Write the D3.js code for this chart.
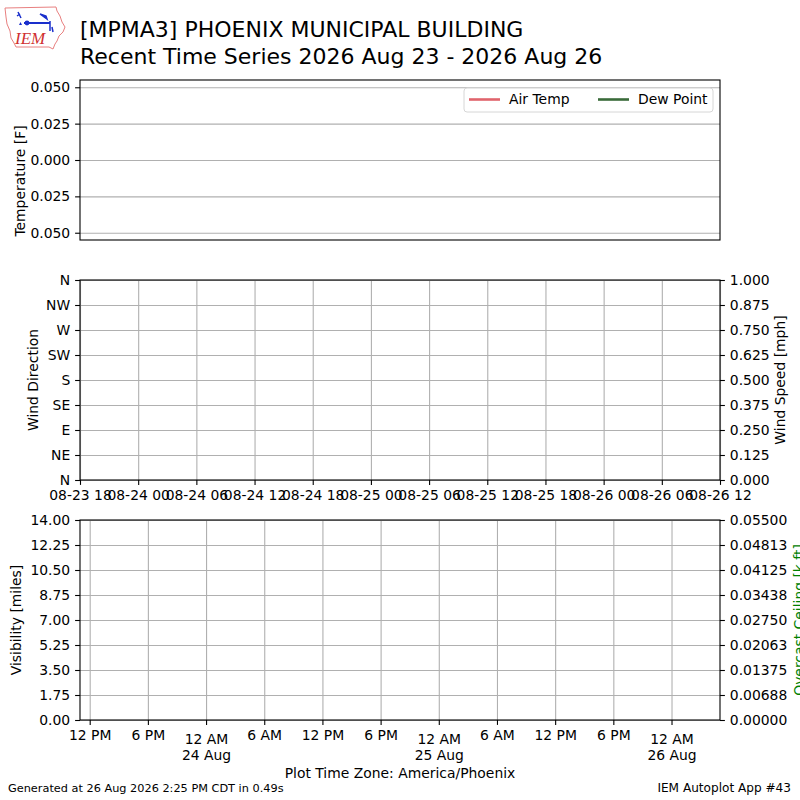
<!DOCTYPE html>
<html>
<head>
<meta charset="utf-8">
<script src="https://cdn.jsdelivr.net/npm/d3@7"></script>
<style>
  html, body { margin: 0; padding: 0; background: #fff; }
  svg { display: block; font-family: "DejaVu Sans", sans-serif; }
  .grid line { stroke: #b0b0b0; stroke-width: 1.1; }
  .grid path { display: none; }
  .ax path, .ax line { stroke: #000; stroke-width: 1.1; }
  .ax text { font-size: 13.9px; fill: #000; font-family: "DejaVu Sans", sans-serif; }
</style>
</head>
<body>
<svg id="chart" width="800" height="800"></svg>
<script>
// ── Data ────────────────────────────────────────────────────────────────
const stationTitle = '[MPMA3] PHOENIX MUNICIPAL BUILDING';
const subTitle     = 'Recent Time Series 2026 Aug 23 - 2026 Aug 26';
const footerLeft   = 'Generated at 26 Aug 2026 2:25 PM CDT in 0.49s';
const footerRight  = 'IEM Autoplot App #43';
const tzLabel      = 'Plot Time Zone: America/Phoenix';

// no observations came back for the period, so all series are empty
const airTemp   = [];
const dewPoint  = [];
const windDir   = [];
const windSpeed = [];
const visibility = [];
const ceiling   = [];

const legendNames  = ['Air Temp', 'Dew Point'];
const legendColors = ['#e0646c', '#3a6b3a'];

const tempTicks     = [-0.05, -0.025, 0, 0.025, 0.05];
const tempLabels    = ['0.050', '0.025', '0.000', '0.025', '0.050'];
const dirTicks      = [0, 45, 90, 135, 180, 225, 270, 315, 360];
const dirLabels     = ['N', 'NE', 'E', 'SE', 'S', 'SW', 'W', 'NW', 'N'];
const speedTicks    = [0, 0.125, 0.25, 0.375, 0.5, 0.625, 0.75, 0.875, 1.0];
const visTicks      = [0, 1.75, 3.5, 5.25, 7, 8.75, 10.5, 12.25, 14];
const ceilTicks     = [0, 0.006875, 0.01375, 0.020625, 0.0275, 0.034375, 0.04125, 0.048125, 0.055];
const ceilLabels    = ['0.00000', '0.00688', '0.01375', '0.02063', '0.02750', '0.03438', '0.04125', '0.04813', '0.05500'];

// UTC window for the wind panel, local (MST) window for the bottom panel
const utcStart   = new Date(Date.UTC(2026, 7, 23, 18));
const utcEnd     = new Date(Date.UTC(2026, 7, 26, 12));
const localStart = new Date(Date.UTC(2026, 7, 23, 11));
const localEnd   = new Date(Date.UTC(2026, 7, 26, 5));

// ── Layout ──────────────────────────────────────────────────────────────
const svg = d3.select('#chart');
const L = 80, R = 720;
const P1 = { top: 80,  bottom: 240 };
const P2 = { top: 280, bottom: 480 };
const P3 = { top: 520, bottom: 720 };
const TICK = 4.9, PAD = 4.9;

// ── Logo ────────────────────────────────────────────────────────────────
const logo = svg.append('g');
logo.append('path')
  .attr('d', 'M5,8 L56,7 L57,11 L60,16 L62,22 L65,27 L63,32 L59,36 L57,41 L55,44 L53,49 L49,47 L16,47 L14,43 L11,38 L10,31 L7,24 L6,17 Z')
  .attr('fill', 'none').attr('stroke', '#e88080').attr('stroke-width', 1);
logo.append('line').attr('x1', 24).attr('y1', 23).attr('x2', 50).attr('y2', 23)
  .attr('stroke', '#1a2fcc').attr('stroke-width', 2);
logo.append('circle').attr('cx', 27).attr('cy', 23).attr('r', 2.4).attr('fill', '#1a2fcc');
logo.append('path').attr('d', 'M18,12 L21,18 M17,16 L20,14 M40,14 L47,19 L46,16 Z M50,21 L50,31 M52,27 L53,32')
  .attr('stroke', '#1a2fcc').attr('stroke-width', 1.5).attr('fill', '#1a2fcc');
logo.append('path').attr('d', 'M19,25 L22,25 L20.5,22 Z').attr('fill', '#1a2fcc');
logo.append('text').attr('x', 15).attr('y', 44)
  .attr('font-family', '"Liberation Serif", serif').attr('font-style', 'italic')
  .attr('font-size', 17).attr('fill', '#d03030').text('IEM');

// ── Titles ──────────────────────────────────────────────────────────────
svg.append('text').attr('x', 80).attr('y', 37).attr('font-size', 22).text(stationTitle);
svg.append('text').attr('x', 80).attr('y', 64).attr('font-size', 22).text(subTitle);

// ── Helpers ─────────────────────────────────────────────────────────────
function gridY(y, ticks) {
  svg.append('g').attr('class', 'grid')
    .attr('transform', `translate(${L},0)`)
    .call(d3.axisLeft(y).tickValues(ticks).tickSize(-(R - L)).tickFormat(''));
}
function gridX(x, ticks, top, bottom) {
  svg.append('g').attr('class', 'grid')
    .attr('transform', `translate(0,${bottom})`)
    .call(d3.axisBottom(x).tickValues(ticks).tickSize(-(bottom - top)).tickFormat(''));
}
function frame(p) {
  svg.append('rect').attr('x', L).attr('y', p.top)
    .attr('width', R - L).attr('height', p.bottom - p.top)
    .attr('fill', 'none').attr('stroke', '#000').attr('stroke-width', 1.1);
}
function ylabel(text, x, y, color) {
  svg.append('text')
    .attr('transform', `translate(${x},${y}) rotate(-90)`)
    .attr('text-anchor', 'middle').attr('font-size', 13.9)
    .attr('fill', color || '#000').text(text);
}

// ── Panel 1: temperature ────────────────────────────────────────────────
const yTemp = d3.scaleLinear().domain([-0.055, 0.055]).range([P1.bottom, P1.top]);
const xTemp = d3.scaleUtc().domain([utcStart, utcEnd]).range([L, R]);
gridY(yTemp, tempTicks);
svg.append('g').attr('class', 'ax').attr('transform', `translate(${L},0)`)
  .call(d3.axisLeft(yTemp).tickValues(tempTicks).tickSize(TICK).tickPadding(PAD)
    .tickFormat((d, i) => tempLabels[i]))
  .call(g => g.select('.domain').remove());
const tline = d3.line().x(d => xTemp(d.t)).y(d => yTemp(d.v));
[airTemp, dewPoint].forEach((s, i) => {
  svg.append('path').datum(s).attr('fill', 'none')
    .attr('stroke', legendColors[i]).attr('stroke-width', 2).attr('d', tline);
});
frame(P1);
ylabel('Temperature [F]', 25, 181);

// legend
const lg = svg.append('g');
lg.append('rect').attr('x', 464).attr('y', 88).attr('width', 249).attr('height', 24)
  .attr('rx', 3).attr('fill', '#fff').attr('fill-opacity', 0.8)
  .attr('stroke', '#d6d6d6').attr('stroke-width', 1);
legendNames.forEach((name, i) => {
  const x0 = 469 + i * 129;
  lg.append('line').attr('x1', x0).attr('x2', x0 + 31).attr('y1', 99.5).attr('y2', 99.5)
    .attr('stroke', legendColors[i]).attr('stroke-width', 2.6);
  lg.append('text').attr('x', x0 + 40).attr('y', 104).attr('font-size', 13.9).text(name);
});

// ── Panel 2: wind ───────────────────────────────────────────────────────
const xWind = d3.scaleUtc().domain([utcStart, utcEnd]).range([L, R]);
const windTicks = d3.utcHour.every(6).range(utcStart, new Date(+utcEnd + 1));
const yDir = d3.scaleLinear().domain([0, 360]).range([P2.bottom, P2.top]);
const ySpd = d3.scaleLinear().domain([0, 1]).range([P2.bottom, P2.top]);
gridY(yDir, dirTicks);
gridX(xWind, windTicks, P2.top, P2.bottom);
svg.append('g').attr('class', 'ax').attr('transform', `translate(${L},0)`)
  .call(d3.axisLeft(yDir).tickValues(dirTicks).tickSize(TICK).tickPadding(PAD)
    .tickFormat((d, i) => dirLabels[i]))
  .call(g => g.select('.domain').remove());
svg.append('g').attr('class', 'ax').attr('transform', `translate(${R},0)`)
  .call(d3.axisRight(ySpd).tickValues(speedTicks).tickSize(TICK).tickPadding(PAD)
    .tickFormat(d3.format('.3f')))
  .call(g => g.select('.domain').remove());
svg.append('g').attr('class', 'ax').attr('transform', `translate(0,${P2.bottom})`)
  .call(d3.axisBottom(xWind).tickValues(windTicks).tickSize(TICK).tickPadding(PAD)
    .tickFormat(d3.utcFormat('%m-%d %H')))
  .call(g => g.select('.domain').remove());
svg.append('g').selectAll('circle').data(windDir).join('circle')
  .attr('cx', d => xWind(d.t)).attr('cy', d => yDir(d.v)).attr('r', 2).attr('fill', '#000');
svg.append('path').datum(windSpeed).attr('fill', 'none').attr('stroke', '#000')
  .attr('d', d3.line().x(d => xWind(d.t)).y(d => ySpd(d.v)));
frame(P2);
ylabel('Wind Direction', 38, 380);
ylabel('Wind Speed [mph]', 785, 380);

// ── Panel 3: visibility / ceiling ───────────────────────────────────────
const xVis = d3.scaleUtc().domain([localStart, localEnd]).range([L, R]);
const visTimeTicks = d3.utcHour.every(6).range(localStart, localEnd);
const yVis = d3.scaleLinear().domain([0, 14]).range([P3.bottom, P3.top]);
const yCeil = d3.scaleLinear().domain([0, 0.055]).range([P3.bottom, P3.top]);
gridY(yVis, visTicks);
gridX(xVis, visTimeTicks, P3.top, P3.bottom);
svg.append('g').attr('class', 'ax').attr('transform', `translate(${L},0)`)
  .call(d3.axisLeft(yVis).tickValues(visTicks).tickSize(TICK).tickPadding(PAD)
    .tickFormat(d3.format('.2f')))
  .call(g => g.select('.domain').remove());
svg.append('g').attr('class', 'ax').attr('transform', `translate(${R},0)`)
  .call(d3.axisRight(yCeil).tickValues(ceilTicks).tickSize(TICK).tickPadding(PAD)
    .tickFormat((d, i) => ceilLabels[i]))
  .call(g => g.select('.domain').remove());
const hourFmt = d3.utcFormat('%-I %p');
const dayFmt = d3.utcFormat('%-d %b');
svg.append('g').attr('class', 'ax').attr('transform', `translate(0,${P3.bottom})`)
  .call(d3.axisBottom(xVis).tickValues(visTimeTicks).tickSize(TICK).tickPadding(PAD).tickFormat(''))
  .call(g => g.select('.domain').remove())
  .call(g => g.selectAll('.tick text').each(function(d) {
    const t = d3.select(this);
    t.append('tspan').attr('x', 0).text(hourFmt(d));
    if (d.getUTCHours() === 0) {
      t.attr('dy', '1.0em');
      t.append('tspan').attr('x', 0).attr('dy', '1.2em').text(dayFmt(d));
    }
  }));
svg.append('path').datum(visibility).attr('fill', 'none').attr('stroke', '#000')
  .attr('d', d3.line().x(d => xVis(d.t)).y(d => yVis(d.v)));
svg.append('path').datum(ceiling).attr('fill', 'none').attr('stroke', 'green')
  .attr('d', d3.line().x(d => xVis(d.t)).y(d => yCeil(d.v)));
frame(P3);
ylabel('Visibility [miles]', 21, 620);
ylabel('Overcast Ceiling [k ft]', 804, 620, 'green');

// ── Footer ──────────────────────────────────────────────────────────────
svg.append('text').attr('x', 400).attr('y', 778).attr('text-anchor', 'middle')
  .attr('font-size', 13.9).text(tzLabel);
svg.append('text').attr('x', 8).attr('y', 792).attr('font-size', 11.3).text(footerLeft);
svg.append('text').attr('x', 791).attr('y', 792).attr('text-anchor', 'end')
  .attr('font-size', 12.1).text(footerRight);
</script>
</body>
</html>
